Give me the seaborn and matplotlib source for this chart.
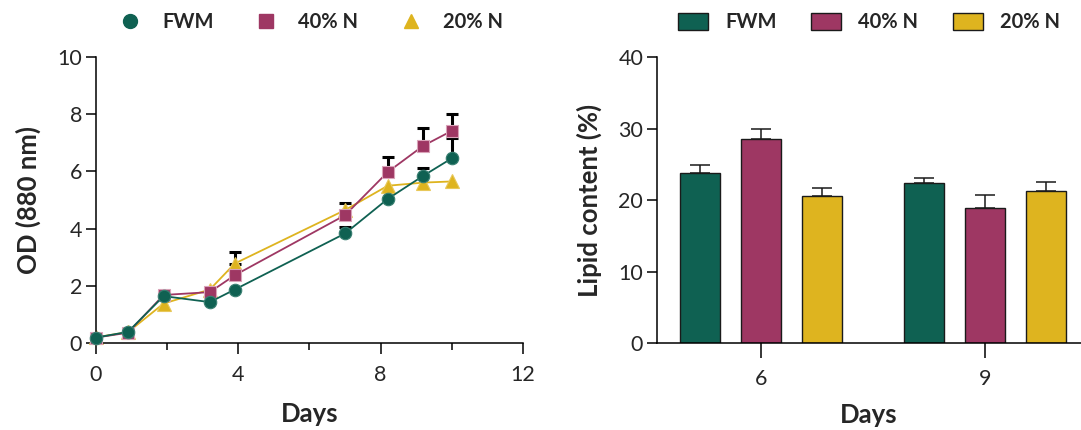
import numpy as np
import pandas as pd
import matplotlib
matplotlib.use("Agg")
import matplotlib.pyplot as plt
from matplotlib.lines import Line2D
import seaborn as sns

# Growth curve (left panel)
groups = ["FWM", "40% N", "20% N"]
days_od = [0, 0.9, 1.9, 3.2, 3.9, 7.0, 8.2, 9.2, 10.0]
od_fwm = [0.19, 0.39, 1.64, 1.43, 1.87, 3.83, 5.04, 5.85, 6.46]
od_40n = [0.19, 0.36, 1.68, 1.78, 2.37, 4.47, 5.98, 6.90, 7.42]
od_20n = [0.20, 0.38, 1.38, 1.87, 2.78, 4.65, 5.50, 5.61, 5.65]
od_err_fwm = [0.0, 0.0, 0.0, 0.0, 0.0, 0.24, 0.0, 0.28, 0.70]
od_err_40n = [0.0, 0.0, 0.0, 0.0, 0.0, 0.41, 0.52, 0.63, 0.60]
od_err_20n = [0.0, 0.0, 0.0, 0.0, 0.41, 0.0, 0.0, 0.0, 0.0]

# Lipid content (right panel)
lipid_days = ["6", "9"]
lipid_fwm = [23.8, 22.4]
lipid_40n = [28.5, 18.9]
lipid_20n = [20.6, 21.3]
lipid_err_fwm = [1.1, 0.75]
lipid_err_40n = [1.5, 1.8]
lipid_err_20n = [1.1, 1.2]

colors = {"FWM": "#0f6152", "40% N": "#9e3763", "20% N": "#deb41f"}
edge_colors = {"FWM": "#3a8072", "40% N": "#d9a3b8", "20% N": "#e8c85a"}
markers = {"FWM": "o", "40% N": "s", "20% N": "^"}

sns.set_style("ticks")
plt.rcParams["font.family"] = ["Lato", "DejaVu Sans"]

fig = plt.figure(figsize=(10.81, 4.30), dpi=100)
ax1 = fig.add_axes([0.0888, 0.2023, 0.395, 0.665])
ax2 = fig.add_axes([0.6078, 0.2023, 0.3922, 0.665])

# ---- left: OD over time
od_vals = {"FWM": od_fwm, "40% N": od_40n, "20% N": od_20n}
od_errs = {"FWM": od_err_fwm, "40% N": od_err_40n, "20% N": od_err_20n}
order_z = {"FWM": 4, "40% N": 3, "20% N": 2}
for g in groups:
    df = pd.DataFrame({"Days": days_od, "OD": od_vals[g]})
    sns.lineplot(data=df, x="Days", y="OD", ax=ax1, color=colors[g],
                 marker=markers[g], markersize=9 if g != "20% N" else 10,
                 markeredgecolor=edge_colors[g], markeredgewidth=0.8,
                 linewidth=1.3, zorder=order_z[g], clip_on=False)
    err = np.array(od_errs[g])
    mask = err > 0
    ax1.errorbar(np.array(days_od)[mask], np.array(od_vals[g])[mask],
                 yerr=[np.zeros(mask.sum()), err[mask]], fmt="none",
                 ecolor="black", elinewidth=2.2, capsize=4.5, capthick=2.2,
                 zorder=1)

ax1.set_xlim(0, 12)
ax1.set_ylim(0, 10)
ax1.set_xticks([0, 4, 8, 12])
ax1.set_xticks([2, 6, 10], minor=True)
ax1.set_yticks([0, 2, 4, 6, 8, 10])
ax1.tick_params(axis="both", which="major", labelsize=15.5, width=1.1,
                color="black")
ax1.tick_params(axis="x", which="major", length=8, pad=8)
ax1.tick_params(axis="y", which="major", length=7, pad=3)
ax1.tick_params(axis="x", which="minor", width=1.1, length=5, color="black")
ax1.set_xlabel("Days", fontsize=18.5, fontweight="bold", labelpad=12)
ax1.set_ylabel("OD (880 nm)", fontsize=18.5, fontweight="bold", labelpad=12)
sns.despine(ax=ax1)
for s in ["left", "bottom"]:
    ax1.spines[s].set_linewidth(1.1)
    ax1.spines[s].set_color("black")
handles = [Line2D([], [], linestyle="none", marker=markers[g], color=colors[g],
                  markersize=10) for g in groups]
ax1.legend(handles, groups, loc="center", bbox_to_anchor=(0.5, 1.122), ncol=3,
           frameon=False, prop={"weight": "bold", "size": 14.5},
           handlelength=1.4, handletextpad=0.9, columnspacing=1.9)

# ---- right: lipid content bars
lip = pd.DataFrame({
    "Days": lipid_days * 3,
    "Lipid": lipid_fwm + lipid_40n + lipid_20n,
    "Group": [g for g in groups for _ in lipid_days],
})
sns.barplot(data=lip, x="Days", y="Lipid", hue="Group", hue_order=groups,
            palette=colors, saturation=1, ax=ax2, errorbar=None, width=0.815,
            gap=0.345, edgecolor="#1a1a1a", linewidth=1.0, zorder=2)
lip_errs = [lipid_err_fwm, lipid_err_40n, lipid_err_20n]
for cont, errs in zip(ax2.containers, lip_errs):
    xs = [p.get_x() + p.get_width() / 2 for p in cont]
    ys = [p.get_height() for p in cont]
    ax2.errorbar(xs, ys, yerr=[np.zeros(len(errs)), errs], fmt="none",
                 ecolor="#1a1a1a", elinewidth=1.1, capsize=7.5, capthick=1.1,
                 zorder=1)

ax2.set_xlim(-0.462, 1.427)
ax2.set_ylim(0, 40)
ax2.set_yticks([0, 10, 20, 30, 40])
ax2.tick_params(axis="both", labelsize=15.5, width=1.1, color="black")
ax2.tick_params(axis="x", length=11, pad=8)
ax2.tick_params(axis="y", length=7, pad=3)
ax2.set_xlabel("Days", fontsize=18.5, fontweight="bold", labelpad=10)
ax2.set_ylabel("Lipid content (%)", fontsize=18.5, fontweight="bold", labelpad=12)
sns.despine(ax=ax2)
for s in ["left", "bottom"]:
    ax2.spines[s].set_linewidth(1.1)
    ax2.spines[s].set_color("black")
ax2.legend(loc="center", bbox_to_anchor=(0.5, 1.122), ncol=3,
           frameon=False, prop={"weight": "bold", "size": 14.5},
           handlelength=1.5, handleheight=0.95, handletextpad=0.85,
           columnspacing=1.7)

fig.savefig("out.png", dpi=100)
